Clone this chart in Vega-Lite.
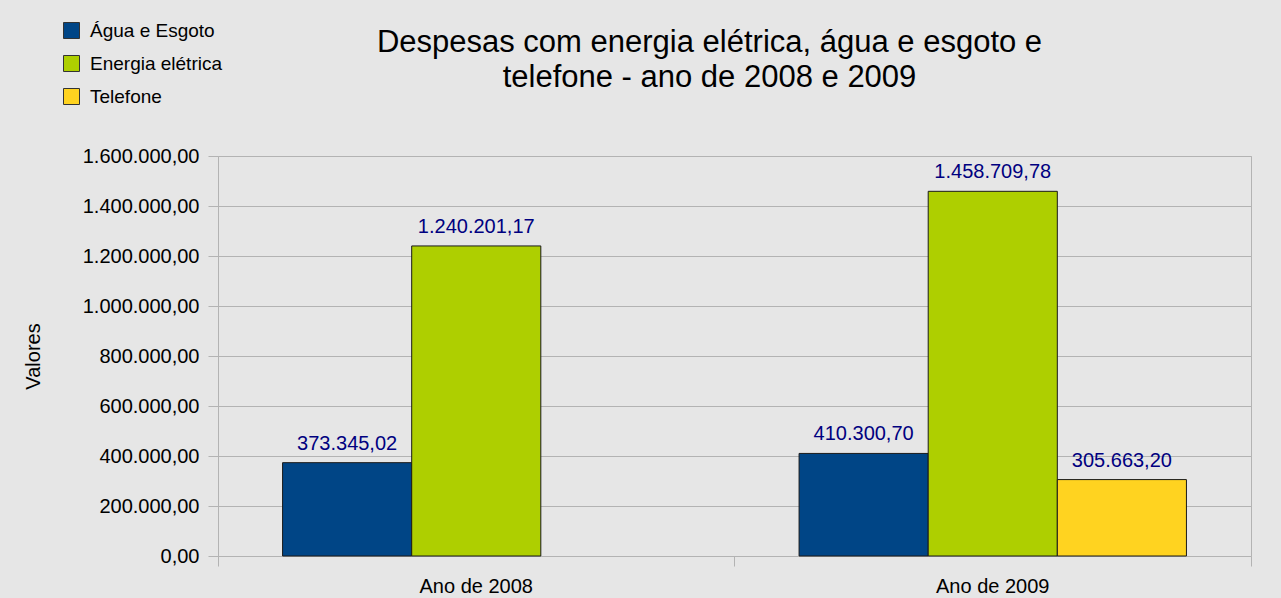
{
  "$schema": "https://vega.github.io/schema/vega-lite/v6.json",
  "width": 1033,
  "height": 400,
  "autosize": {"type": "none"},
  "padding": {"left": 218, "top": 156, "right": 30, "bottom": 42},
  "background": "#e6e6e6",
  "title": {
    "text": ["Despesas com energia elétrica, água e esgoto e", "telefone - ano de 2008 e 2009"],
    "fontSize": 31,
    "font": "Liberation Sans",
    "fontWeight": "normal",
    "color": "#000000",
    "lineHeight": 35,
    "frame": "group",
    "anchor": "middle",
    "dx": -25,
    "offset": -73
  },
  "data": {
    "values": [
      {"ano": "Ano de 2008", "tipo": "Água e Esgoto", "valor": 373345.02},
      {"ano": "Ano de 2008", "tipo": "Energia elétrica", "valor": 1240201.17},
      {"ano": "Ano de 2009", "tipo": "Água e Esgoto", "valor": 410300.70},
      {"ano": "Ano de 2009", "tipo": "Energia elétrica", "valor": 1458709.78},
      {"ano": "Ano de 2009", "tipo": "Telefone", "valor": 305663.20}
    ]
  },
  "encoding": {
    "x": {
      "field": "ano",
      "type": "nominal",
      "scale": {"paddingInner": 0, "paddingOuter": 0},
      "axis": {
        "title": null,
        "labelAngle": 0,
        "labelFontSize": 20,
        "labelFont": "Liberation Sans",
        "labelColor": "#000000",
        "labelPadding": 10,
        "tickSize": 10,
        "tickColor": "#b3b3b3",
        "bandPosition": 1,
        "tickExtra": true,
        "grid": false,
        "domain": false
      }
    },
    "xOffset": {
      "field": "tipo",
      "type": "nominal",
      "scale": {"domain": ["Água e Esgoto", "Energia elétrica", "Telefone"], "paddingInner": 0, "paddingOuter": 0.5}
    },
    "y": {
      "field": "valor",
      "type": "quantitative",
      "scale": {"domain": [0, 1600000]},
      "axis": {
        "title": "Valores",
        "titleFontSize": 20,
        "titleFont": "Liberation Sans",
        "titleFontWeight": "normal",
        "titleColor": "#000000",
        "titleAngle": 270,
        "titleX": -185,
        "titleY": 200,
        "titleAlign": "center",
        "titleBaseline": "middle",
        "values": [0, 200000, 400000, 600000, 800000, 1000000, 1200000, 1400000, 1600000],
        "format": ",.2f",
        "labelFontSize": 20,
        "labelFont": "Liberation Sans",
        "labelColor": "#000000",
        "labelPadding": 9,
        "tickSize": 10,
        "tickColor": "#b3b3b3",
        "gridColor": "#b3b3b3",
        "domain": false
      }
    }
  },
  "layer": [
    {
      "mark": {"type": "bar", "stroke": "#1a1a1a", "strokeWidth": 1},
      "encoding": {
        "color": {
          "field": "tipo",
          "type": "nominal",
          "scale": {"domain": ["Água e Esgoto", "Energia elétrica", "Telefone"], "range": ["#004586", "#aecf00", "#ffd320"]},
          "legend": {
            "title": null,
            "orient": "none",
            "legendX": -156,
            "legendY": -135,
            "symbolType": "square",
            "symbolSize": 256,
            "symbolStrokeColor": "#333333",
            "symbolStrokeWidth": 1,
            "symbolOpacity": 1,
            "labelFontSize": 19,
            "labelFont": "Liberation Sans",
            "labelColor": "#000000",
            "labelOffset": 9,
            "rowPadding": 12
          }
        }
      }
    },
    {
      "mark": {"type": "text", "dy": -13, "baseline": "alphabetic", "fontSize": 20, "font": "Liberation Sans", "color": "#000080"},
      "encoding": {
        "text": {"field": "valor", "type": "quantitative", "format": ",.2f"}
      }
    }
  ],
  "config": {
    "locale": {"number": {"decimal": ",", "thousands": ".", "grouping": [3], "currency": ["R$", ""]}},
    "view": {"stroke": "#b3b3b3", "strokeWidth": 1}
  }
}
